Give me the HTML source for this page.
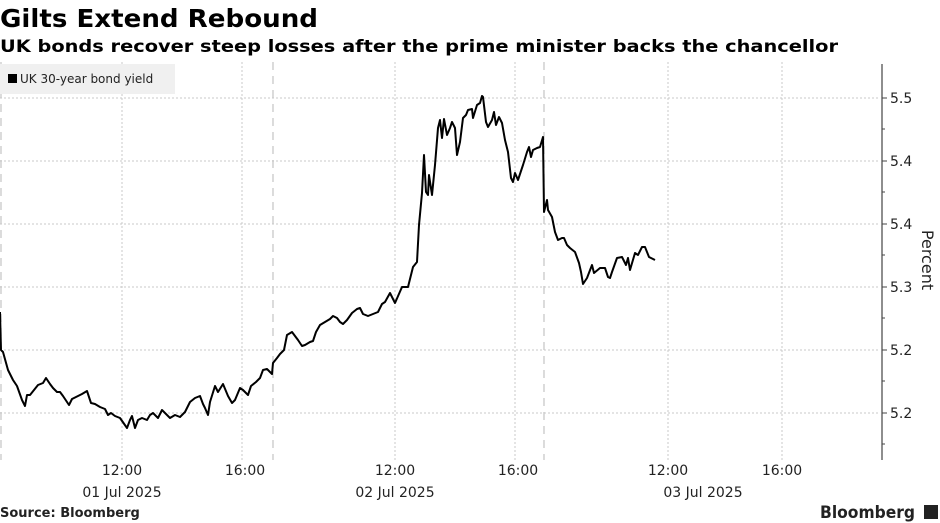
<!DOCTYPE html>
<html><head><meta charset="utf-8"><style>body{margin:0;background:#fff}svg{display:block}</style></head>
<body>
<svg width="940" height="523" viewBox="0 0 940 523" xmlns="http://www.w3.org/2000/svg" font-family="'DejaVu Sans','Liberation Sans',sans-serif">
<text x="0" y="27" font-size="25" font-weight="bold" textLength="318" lengthAdjust="spacingAndGlyphs">Gilts Extend Rebound</text>
<text x="0" y="52" font-size="17" font-weight="bold" textLength="838" lengthAdjust="spacingAndGlyphs">UK bonds recover steep losses after the prime minister backs the chancellor</text>
<g stroke="#c8c8c8" stroke-dasharray="2,2" stroke-width="1">
<line x1="0" y1="98" x2="880" y2="98"/><line x1="0" y1="161" x2="880" y2="161"/><line x1="0" y1="224" x2="880" y2="224"/><line x1="0" y1="287" x2="880" y2="287"/><line x1="0" y1="350" x2="880" y2="350"/><line x1="0" y1="413" x2="880" y2="413"/>
<line x1="122" y1="62" x2="122" y2="460"/><line x1="242" y1="62" x2="242" y2="460"/><line x1="395" y1="62" x2="395" y2="460"/><line x1="515" y1="62" x2="515" y2="460"/><line x1="668" y1="62" x2="668" y2="460"/><line x1="782" y1="62" x2="782" y2="460"/>
</g>
<g stroke="#c8c8c8" stroke-dasharray="8,6" stroke-width="1.3">
<line x1="1" y1="62" x2="1" y2="460"/><line x1="273" y1="62" x2="273" y2="460"/><line x1="544" y1="62" x2="544" y2="460"/>
</g>
<rect x="0" y="64" width="175" height="30" fill="#f0f0f0"/>
<rect x="8" y="74" width="9" height="9" fill="#000"/>
<text x="20" y="83" font-size="12" fill="#222">UK 30-year bond yield</text>
<line x1="882" y1="64" x2="882" y2="460" stroke="#444" stroke-width="1.2"/>
<g stroke="#444"><line x1="882" y1="98" x2="887" y2="98"/><line x1="882" y1="161" x2="887" y2="161"/><line x1="882" y1="224" x2="887" y2="224"/><line x1="882" y1="287" x2="887" y2="287"/><line x1="882" y1="350" x2="887" y2="350"/><line x1="882" y1="413" x2="887" y2="413"/>
<line x1="882" y1="129" x2="885" y2="129"/><line x1="882" y1="192" x2="885" y2="192"/><line x1="882" y1="255" x2="885" y2="255"/><line x1="882" y1="318" x2="885" y2="318"/><line x1="882" y1="381" x2="885" y2="381"/><line x1="882" y1="444" x2="885" y2="444"/></g>
<g font-size="14" fill="#222"><text x="890" y="103">5.5</text><text x="890" y="166">5.4</text><text x="890" y="229">5.4</text><text x="890" y="292">5.3</text><text x="890" y="355">5.2</text><text x="890" y="418">5.2</text></g>
<text transform="translate(922,260) rotate(90)" font-size="16" text-anchor="middle" fill="#222">Percent</text>
<g font-size="14" fill="#222" text-anchor="middle">
<text x="122" y="475">12:00</text><text x="122" y="497">01 Jul 2025</text>
<text x="245" y="475">16:00</text>
<text x="395" y="475">12:00</text><text x="395" y="497">02 Jul 2025</text>
<text x="518" y="475">16:00</text>
<text x="668" y="475">12:00</text><text x="703" y="497">03 Jul 2025</text>
<text x="782" y="475">16:00</text>
</g>
<text x="0" y="517" font-size="13" font-weight="bold" fill="#222">Source: Bloomberg</text>
<text x="915" y="518" font-size="17" font-weight="bold" fill="#222" text-anchor="end" textLength="95" lengthAdjust="spacingAndGlyphs">Bloomberg</text>
<rect x="924" y="505" width="14" height="14" fill="#222"/>
<polyline fill="none" stroke="#000" stroke-width="2" stroke-linejoin="round" points="0,312 1,350 3,352 8,370 13,380 17,386 22,400 25,406 27,395 30,395 38,385 43,383 46,378 50,384 53,388 57,392 60,392 63,396 69,405 72,399 78,396 82,394 87,391 91,403 95,404 100,407 105,409 108,415 111,413 115,416 120,418 127,428 130,420 132,416 135,428 138,420 142,418 147,420 150,415 153,413 155,415 158,418 162,410 165,413 170,418 175,415 180,417 185,412 190,402 195,398 200,396 203,404 205,408 208,415 210,402 215,386 218,392 223,384 228,396 232,403 235,400 240,388 243,390 248,395 251,386 256,382 260,378 263,370 267,369 272,374 273,363 277,358 280,354 284,350 287,335 292,332 295,336 298,340 302,346 305,345 310,342 313,341 316,332 320,325 325,322 330,319 333,316 337,318 340,322 343,324 347,320 352,313 357,309 360,308 363,314 368,316 373,314 378,312 382,304 385,302 390,293 395,303 402,287 408,287 413,267 417,262 419,225 422,193 424,155 426,192 428,195 429,175 432,195 435,165 438,128 440,120 442,138 444,119 447,135 450,128 452,122 455,128 457,155 460,142 463,118 466,115 468,110 472,109 473,118 477,105 480,103 482,96 483,97 486,122 488,127 492,120 494,112 496,125 499,117 502,123 505,140 508,152 511,178 513,182 515,173 518,180 523,165 527,152 529,147 531,157 533,150 537,148 540,147 543,137 544,212 547,200 548,210 552,217 555,232 558,240 562,238 564,238 567,245 570,248 575,252 579,263 581,272 583,284 587,278 592,265 594,273 600,268 605,268 608,277 610,278 612,272 617,258 622,257 626,265 628,258 630,270 635,253 638,255 642,247 645,247 649,257 655,260"/>
</svg>
</body></html>
